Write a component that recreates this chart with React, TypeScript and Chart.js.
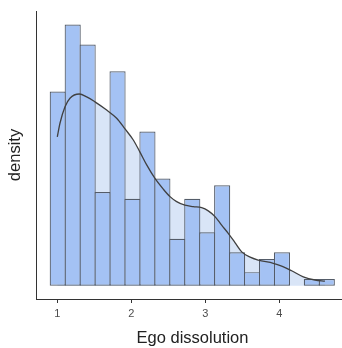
import { useEffect, useRef } from "react";
import { Chart, registerables } from "chart.js";

Chart.register(...registerables);

// Histogram bins (centres) and their densities
const binCenters = [1.005, 1.207, 1.409, 1.611, 1.813, 2.015, 2.217, 2.419, 2.621, 2.823, 3.025, 3.227, 3.429, 3.631, 3.833, 4.035, 4.237, 4.439, 4.641];
const binDensity = [0.545, 0.733, 0.677, 0.263, 0.602, 0.244, 0.433, 0.301, 0.132, 0.244, 0.150, 0.282, 0.094, 0.038, 0.075, 0.094, 0, 0.019, 0.019];

// Kernel density estimate curve
const kdeX = [0.999, 1.035, 1.103, 1.170, 1.296, 1.396, 1.508, 1.666, 1.801, 1.914, 2.026, 2.116, 2.207, 2.319, 2.431, 2.522, 2.612, 2.724, 2.836, 2.950, 3.039, 3.130, 3.220, 3.309, 3.400, 3.491, 3.605, 3.715, 3.918, 4.031, 4.166, 4.323, 4.481, 4.616];
const kdeY = [0.418, 0.456, 0.502, 0.526, 0.538, 0.530, 0.516, 0.493, 0.470, 0.440, 0.409, 0.375, 0.339, 0.301, 0.271, 0.250, 0.236, 0.226, 0.222, 0.219, 0.210, 0.194, 0.170, 0.147, 0.121, 0.095, 0.080, 0.072, 0.063, 0.055, 0.042, 0.025, 0.016, 0.013];

const xTicks = [1, 2, 3, 4];
const xTitle = "Ego dissolution";
const yTitle = "density";

const FONT = "'Liberation Sans', Arial, sans-serif";

export default function App() {
  const ref = useRef<HTMLCanvasElement>(null);

  useEffect(() => {
    if (!ref.current) return;
    const kdePoints = kdeX.map((x, i) => ({ x, y: kdeY[i] }));
    const chart = new Chart(ref.current, {
      type: "bar",
      data: {
        datasets: [
          {
            type: "line",
            data: kdePoints,
            fill: "origin",
            backgroundColor: "#d9e5f7",
            borderWidth: 0,
            pointRadius: 0,
            cubicInterpolationMode: "monotone",
            order: 3,
          } as any,
          {
            type: "bar",
            data: binCenters.map((x, i) => ({ x, y: binDensity[i] })),
            backgroundColor: "#a4c2f4",
            borderColor: "#545c69",
            borderWidth: 1.2,
            borderSkipped: false,
            categoryPercentage: 1,
            barPercentage: 1.08,
            order: 2,
          } as any,
          {
            type: "line",
            data: kdePoints,
            fill: false,
            borderColor: "#404040",
            borderWidth: 1.3,
            pointRadius: 0,
            cubicInterpolationMode: "monotone",
            order: 1,
          } as any,
        ],
      },
      options: {
        responsive: false,
        animation: false,
        devicePixelRatio: 1,
        layout: { padding: { top: 11, left: 0, right: 0, bottom: 0 } },
        plugins: { legend: { display: false }, tooltip: { enabled: false } },
        scales: {
          x: {
            type: "linear",
            min: 0.711,
            max: 4.941,
            offset: false,
            afterBuildTicks: (s: any) => {
              s.ticks = xTicks.map((v) => ({ value: v }));
            },
            afterFit: (s: any) => {
              s.height = 49;
            },
            grid: {
              display: true,
              drawOnChartArea: false,
              drawTicks: true,
              tickLength: 4,
              color: "#333333",
              offset: false,
            },
            border: { display: true, color: "#333333", width: 1 },
            ticks: {
              font: { family: FONT, size: 11 },
              color: "#4d4d4d",
              padding: 4.4,
              maxRotation: 0,
              autoSkip: false,
            },
            title: {
              display: true,
              text: xTitle,
              font: { family: FONT, size: 16.5, lineHeight: 1.2 },
              color: "#222222",
              padding: { top: 0, bottom: 0 },
            },
          } as any,
          y: {
            min: -0.0373,
            max: 0.771,
            afterFit: (s: any) => {
              s.width = 36;
            },
            grid: { display: false },
            border: { display: true, color: "#333333", width: 1 },
            ticks: { display: false },
            title: {
              display: true,
              text: yTitle,
              font: { family: FONT, size: 16.5, lineHeight: 1.2 },
              color: "#222222",
              padding: { top: 5.6, bottom: 0 },
            },
          } as any,
        },
      },
    });
    return () => chart.destroy();
  }, []);

  return (
    <div
      style={{
        position: "absolute",
        left: 0,
        top: 0,
        width: 342,
        height: 348,
        overflow: "hidden",
        background: "#ffffff",
      }}
    >
      <canvas ref={ref} width={349} height={348} style={{ display: "block" }} />
    </div>
  );
}
